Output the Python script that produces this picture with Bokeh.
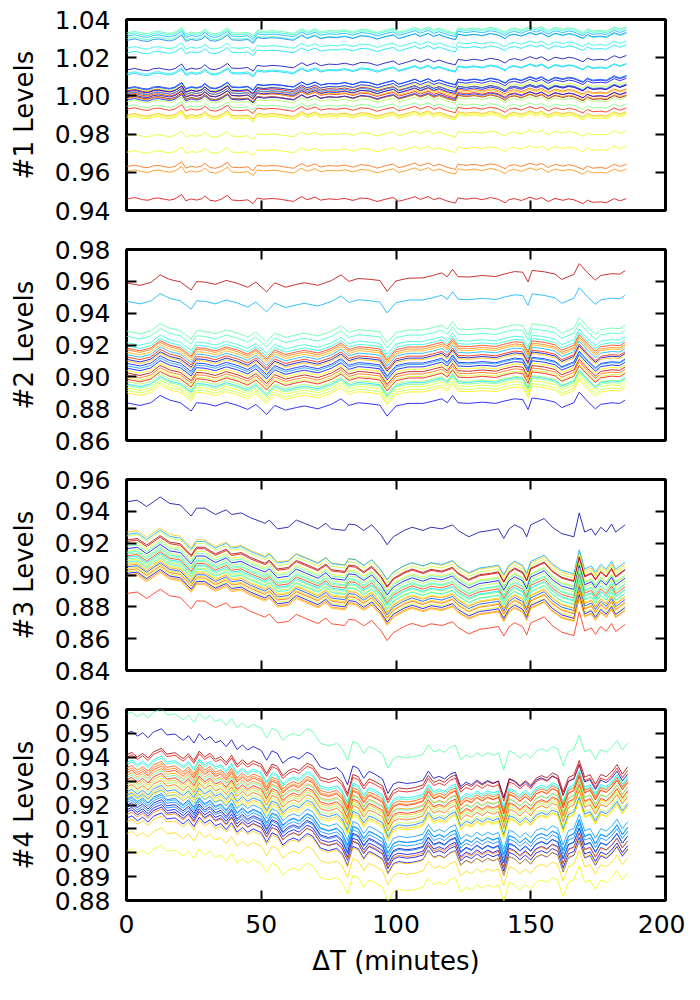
import numpy as np
from bokeh.plotting import figure
from bokeh.layouts import column
from bokeh.models import FixedTicker, PrintfTickFormatter, LinearAxis, Range1d
from bokeh.embed import file_html
from bokeh.resources import INLINE

# each panel: the shared wiggle of its lines (minutes, in units of 0.001),
# then per line the starting level, the extra shift reached at the end
# (units of 0.001) and its position on the jet colour map

# panel 1
t1 = [0, 3, 6, 8, 10, 12, 14, 16, 18, 20.5, 22, 24, 26, 28, 29, 31, 33, 35, 37.5, 39,
      42, 45, 47, 48.5, 51, 54, 57, 60, 62, 65, 67, 70, 72, 75, 78, 81, 84, 87, 90, 93,
      96, 99, 101, 104, 107, 109, 112, 114, 116, 119, 122, 123, 126, 129, 132, 135, 138,
      140.5, 142, 144, 146.5, 149.7, 152, 154, 156.5, 159, 162, 164, 166, 169.4, 171,
      173, 176, 178, 181, 183, 185.5]
w1 = [0, 0.8, -0.3, -0.6, 0.4, 0.6, 0, -0.5, 0.2, 2.5, -0.8, 0.2, -0.4, 0.3, 1.8, -0.5,
      -0.9, 0, 2.2, -0.3, -0.6, -0.2, -2.2, 0.8, 0.2, 0.6, 0.2, -0.5, -0.9, 1.6, 0, 1.4,
      -0.2, 0.5, 0.2, 0.8, -0.3, 1.0, 0.6, -0.8, 0.4, 1.3, -0.6, 0.5, 1.8, 0.4, 1.9, 0.3,
      1.2, -0.4, -1.5, 1.3, 0.6, 1.2, 0.4, 1.5, 0.6, -1.2, 0.5, 1.0, 0.0, 1.8, 0.6, 1.6,
      -0.5, 1.2, 0.2, 1.0, 0.5, -1.5, 0.3, -0.8, -0.5, -1.0, 1.2, 0.0, 1.2]
lev1 = [1.0330, 1.0322, 1.0312, 1.0300, 1.0290, 1.0250, 1.0225, 1.0135, 1.0118, 1.0110,
        1.0040, 1.0035, 1.0030, 1.0025, 1.0020, 1.0015, 1.0010, 1.0005, 1.0000, 0.9995,
        0.9990, 0.9985, 0.9978, 0.9970, 0.9945, 0.9930, 0.9900, 0.9893, 0.9885, 0.9790,
        0.9705, 0.9630, 0.9605, 0.9460]
drift1 = [2, 2, 2, 1.5, 3, 2.5, 3, 6.5, 4, 4.5, 5, 6, 3, 2, 6, 1, 4, 0, 2, 5, 0, 1, 3, 1,
          0, -0.5, 0.5, 0.5, 0.5, 1.5, 2, 0, 0, -1]
col1 = [0.45, 0.40, 0.30, 0.42, 0.25, 0.38, 0.35, 0.05, 0.36, 0.33, 0.15, 0.20, 0.60,
        0.95, 0.12, 0.80, 0.25, 0.90, 0.70, 0.10, 1.0, 0.75, 0.15, 0.55, 0.50, 0.88, 0.72,
        0.62, 0.65, 0.63, 0.64, 0.80, 0.76, 0.92]

# panel 2
t2 = [0, 5, 9, 12.5, 16, 20, 24, 26, 29, 33, 37, 41, 45, 48, 52, 55, 59, 63, 66, 71, 76,
      79.6, 82.5, 86, 90, 94, 96.7, 100, 104.5, 110, 113.6, 117, 119, 121, 123, 127, 132,
      137, 140, 144, 147, 149, 150.5, 155, 159, 161.5, 166, 168, 171, 174, 176, 180, 183, 185]
w2 = [0, -1.7, 0, 4.6, 1.7, 0, -5.2, 0, -0.4, -2, 0.4, -1.5, -4.2, -1, -7.3, -1.7, -4.6,
      -3, -2, -3.8, -1, 2.5, -1.7, 0, -0.6, -1.5, -8.4, -2, -0.4, -0.4, 1, 2.5, 0, 4.6, 0,
      -0.4, 0.4, -0.4, 1, 2.5, 2, -4.2, 3, 2, 0.4, -3, 0, 6.7, 1, -3.8, -1, 0, -0.4, 1.7]
lev2 = [0.9590, 0.9475, 0.9287, 0.9255, 0.9215, 0.9195, 0.9180, 0.9170, 0.9155, 0.9140,
        0.9125, 0.9110, 0.9100, 0.9085, 0.9070, 0.9055, 0.9040, 0.9025, 0.9010, 0.8995,
        0.8985, 0.8970, 0.8955, 0.8945, 0.8930, 0.8915, 0.8900, 0.8837]
drift2 = [6, 2, 2, 2, 2, 2, 2, 1.5, 2, 2, 1.5, 2, 2, 1, 2, 2, 2, 2, 2, 2, 2, 1, 2, 2, 2,
          1.5, 1.5, 0]
col2 = [0.95, 0.30, 0.45, 0.42, 0.40, 0.38, 0.85, 0.78, 0.72, 0.30, 0.88, 0.05, 0.70,
        0.15, 0.28, 0.10, 0.65, 0.95, 0.80, 0.60, 0.90, 0.55, 0.35, 0.50, 0.62, 0.58,
        0.66, 0.12]

# panel 3
t3 = [0, 4, 7.5, 10, 12.5, 16, 20, 24, 26, 29, 33, 37, 39, 42.6, 46, 51.4, 53, 56, 60,
      63, 66, 71, 74, 76, 81, 82.5, 85, 88, 91, 94.5, 96.7, 99, 103, 106, 110, 113, 117,
      121, 123, 127, 131, 135, 138, 140, 142, 144, 147, 148.5, 150, 155, 158, 161.5, 166,
      168, 170, 172.5, 174, 176, 178, 180, 181.5, 185]
w3 = [0, 1, -3, 0, 3, -1, -2, -9, -4, -4, -8, -5, -8, -7, -10, -13.5, -11.5, -17, -16,
      -11.5, -13.5, -17, -13.5, -17, -18, -14, -14.5, -18, -14.5, -21, -27, -22, -18, -16,
      -18, -16, -17, -14.5, -18, -22, -19, -18, -17, -23, -17, -14.5, -17, -22, -14.5,
      -10.5, -16, -20, -22, -7, -19, -17, -21, -16, -19, -14, -19, -14.5]
lev3 = [0.9460, 0.9270, 0.9255, 0.9245, 0.9220, 0.9210, 0.9195, 0.9180, 0.9165, 0.9150,
        0.9140, 0.9130, 0.9120, 0.9110, 0.9100, 0.9090, 0.9080, 0.9070, 0.9060, 0.9050,
        0.9040, 0.9030, 0.9020, 0.9010, 0.9000, 0.8990, 0.8884]
drift3 = [0, -6, -3, -5, -4, -3.5, -5, -4, -4, -4, -5, -4.5, -5, -5.5, -5, -6, -5, -6,
          -5.5, -6, -6.5, -6, -7, -7, -7.5, -7, -5]
col3 = [0.03, 0.70, 0.30, 0.60, 0.97, 0.92, 0.62, 0.45, 0.10, 0.55, 0.40, 0.50, 0.85,
        0.35, 0.48, 0.58, 0.38, 0.66, 0.75, 0.20, 0.68, 0.80, 0.63, 0.12, 0.78, 0.72, 0.87]

# panel 4
t4 = [0, 2, 4, 6, 8, 10, 13, 15, 18, 21, 23, 25, 27, 29, 31, 33, 35, 37, 39, 41, 43, 45,
      47, 50, 52, 54, 56, 58, 60, 62, 64, 67, 69, 72, 75, 78, 80, 82, 84, 86, 88, 90, 92,
      95, 97, 99, 101, 104, 107, 110, 112, 114, 116, 118, 120, 122, 124, 126, 128, 130,
      132, 134, 136, 138, 140, 142, 144, 146, 148, 150, 152, 154, 156, 158, 160, 162, 164,
      166, 168, 170, 172, 174, 176, 178, 180, 182, 184, 186]
w4 = [0, 1, -1, 0.5, -1.5, 1, 2.5, 0, 0.5, -2, 0, -3, 1, -1.5, 0, -2.5, -1.5, -4, -1, -5,
      -3, -5, -3.5, -5, -9, -5, -6, -10, -8, -7, -8, -5, -6, -11, -12, -11, -13, -18, -10,
      -11, -15, -12, -13, -15, -21, -17, -16, -16.5, -16, -15, -11, -14, -13, -14, -12,
      -11, -17, -15, -16, -14, -15.5, -14, -15, -14, -21, -13, -14, -16, -14, -16, -13,
      -12, -13, -11, -12, -19, -13, -12, -6, -13, -12, -16, -12, -13, -11, -8, -12, -9]
lev4 = [0.9580, 0.9500, 0.9410, 0.9400, 0.9378, 0.9370, 0.9355, 0.9345, 0.9335, 0.9325,
        0.9315, 0.9305, 0.9295, 0.9285, 0.9275, 0.9265, 0.9255, 0.9245, 0.9240, 0.9232,
        0.9225, 0.9218, 0.9210, 0.9200, 0.9190, 0.9180, 0.9170, 0.9160, 0.9145, 0.9130,
        0.9080, 0.9006]
drift4 = [-3, -8, 4, 3.5, 3, 3, 4, 4, 5, 4, 5, 4.5, 5, 5, 5, 4, 4, 4, -2, 5, -3, -2, -3,
          -4, -3, -4, -5, -2, -4, -2, -1, 0]
col4 = [0.45, 0.06, 0.97, 0.90, 0.36, 0.40, 0.82, 0.78, 0.85, 0.75, 0.45, 0.88, 0.72,
        0.55, 0.80, 0.58, 0.25, 0.70, 0.28, 0.65, 0.22, 0.30, 0.26, 0.05, 0.24, 0.10, 0.08,
        0.78, 0.12, 0.70, 0.68, 0.64]

yticks1 = [0.94, 0.96, 0.98, 1.00, 1.02, 1.04]
yticks2 = [0.86, 0.88, 0.90, 0.92, 0.94, 0.96, 0.98]
yticks3 = [0.84, 0.86, 0.88, 0.90, 0.92, 0.94, 0.96]
yticks4 = [0.88, 0.89, 0.90, 0.91, 0.92, 0.93, 0.94, 0.95, 0.96]
xticks = [0, 50, 100, 150, 200]

FONT = "DejaVu Sans"


def jet(f):
    # matplotlib's jet colour map
    r = np.interp(f, [0, 0.35, 0.66, 0.89, 1], [0, 0, 1, 1, 0.5])
    g = np.interp(f, [0, 0.125, 0.375, 0.64, 0.91, 1], [0, 0, 1, 1, 0, 0])
    b = np.interp(f, [0, 0.11, 0.34, 0.65, 1], [0.5, 1, 1, 0, 0])
    return "#%02x%02x%02x" % (int(r * 255), int(g * 255), int(b * 255))


def style_axis(ax, ticks, show_labels):
    ax.ticker = FixedTicker(ticks=ticks)
    ax.axis_line_color = None
    ax.major_tick_in = 10
    ax.major_tick_out = 0
    ax.major_tick_line_width = 2
    ax.major_tick_line_color = "black"
    ax.minor_tick_line_color = None
    if show_labels:
        ax.major_label_text_font = FONT
        ax.major_label_text_font_size = "25px"
        ax.major_label_text_color = "black"
    else:
        # ticks only: labels are not painted and take (almost) no room
        ax.major_label_text_color = None
        ax.major_label_text_font_size = "1px"
        ax.major_label_standoff = 0


def panel(t, wiggle, levels, drifts, colours, ylo, yhi, yticks, ylabel, top, bottom, last=False):
    p = figure(frame_width=539, frame_height=191,
               x_range=Range1d(0, 200), y_range=Range1d(ylo, yhi),
               output_backend="svg", toolbar_location=None,
               min_border_left=126, min_border_right=20,
               min_border_top=top, min_border_bottom=bottom)
    t = np.array(t, dtype=float)
    w = np.array(wiggle) / 1000.0
    for lev, d, c in zip(levels, drifts, colours):
        y = lev + w + d / 1000.0 * t / 186.0
        p.line(t, y, line_color=jet(c), line_width=1, line_alpha=0.8)

    top_axis = LinearAxis()
    right_axis = LinearAxis()
    p.add_layout(top_axis, "above")
    p.add_layout(right_axis, "right")
    left_axis = p.left[0]
    bottom_axis = p.below[0]

    style_axis(left_axis, yticks, True)
    style_axis(right_axis, yticks, False)
    style_axis(top_axis, xticks, False)
    style_axis(bottom_axis, xticks, last)

    left_axis.formatter = PrintfTickFormatter(format="%.2f")
    left_axis.major_label_standoff = 16
    left_axis.axis_label = ylabel
    left_axis.axis_label_text_font = FONT
    left_axis.axis_label_text_font_size = "26px"
    left_axis.axis_label_text_font_style = "normal"
    left_axis.axis_label_text_color = "black"
    left_axis.axis_label_standoff = 13

    if last:
        bottom_axis.major_label_standoff = 14
        bottom_axis.axis_label = "\u0394T (minutes)"
        bottom_axis.axis_label_text_font = FONT
        bottom_axis.axis_label_text_font_size = "26px"
        bottom_axis.axis_label_text_font_style = "normal"
        bottom_axis.axis_label_text_color = "black"
        bottom_axis.axis_label_standoff = 10

    p.grid.visible = False
    p.outline_line_color = "black"
    p.outline_line_width = 3
    p.background_fill_color = "white"
    p.border_fill_color = "white"
    return p


p1 = panel(t1, w1, lev1, drift1, col1, 0.94, 1.04, yticks1, "#1 Levels", 19, 19)
p2 = panel(t2, w2, lev2, drift2, col2, 0.86, 0.98, yticks2, "#2 Levels", 20, 19)
p3 = panel(t3, w3, lev3, drift3, col3, 0.84, 0.96, yticks3, "#3 Levels", 20, 19)
p4 = panel(t4, w4, lev4, drift4, col4, 0.88, 0.96, yticks4, "#4 Levels", 20, 80, last=True)

layout = column(p1, p2, p3, p4, spacing=0)
open("out.html", "w").write(file_html(layout, INLINE))
